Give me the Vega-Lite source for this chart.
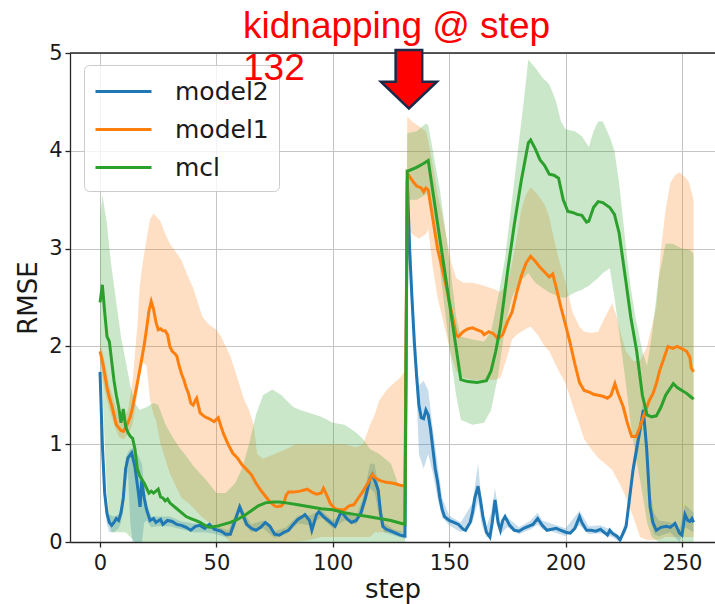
{
  "$schema": "https://vega.github.io/schema/vega-lite/v6.json",
  "width": 645,
  "height": 489,
  "autosize": {"type": "none"},
  "padding": {"left": 70, "top": 53, "right": 0, "bottom": 62},
  "background": "white",
  "title": {"text": ["kidnapping @ step", "132"], "anchor": "start", "frame": "group", "orient": "top", "offset": -75, "baseline": "alphabetic", "dx": 173, "font": "Liberation Sans", "fontSize": 37, "fontWeight": "normal", "color": "#ff0000", "lineHeight": 42},
  "config": {
    "view": {"stroke": null},
    "axis": {
      "grid": true, "gridColor": "#c4c4c4", "gridWidth": 1,
      "domainColor": "#262626", "domainWidth": 1.3,
      "tickColor": "#262626", "tickSize": 5, "tickWidth": 1.3,
      "labelFont": "DejaVu Sans", "labelFontSize": 21, "labelColor": "#1a1a1a",
      "titleFont": "DejaVu Sans", "titleFontSize": 26, "titleFontWeight": "normal", "titleColor": "#1a1a1a"
    },
    "legend": {
      "labelFont": "DejaVu Sans", "labelFontSize": 25, "labelColor": "#1a1a1a"
    }
  },
  "datasets": {
    "lines": [
      {"series":"model2","step":0,"rmse":1.74},{"series":"model2","step":1,"rmse":1.0},{"series":"model2","step":2,"rmse":0.5},{"series":"model2","step":3,"rmse":0.29},{"series":"model2","step":4,"rmse":0.2},{"series":"model2","step":5,"rmse":0.17},{"series":"model2","step":6,"rmse":0.2},{"series":"model2","step":7,"rmse":0.24},{"series":"model2","step":8,"rmse":0.22},{"series":"model2","step":9,"rmse":0.3},{"series":"model2","step":10,"rmse":0.45},{"series":"model2","step":11,"rmse":0.75},{"series":"model2","step":12,"rmse":0.86},{"series":"model2","step":13.6,"rmse":0.91},{"series":"model2","step":15,"rmse":0.77},{"series":"model2","step":16.5,"rmse":0.5},{"series":"model2","step":17.2,"rmse":0.36},{"series":"model2","step":17.9,"rmse":0.63},{"series":"model2","step":19,"rmse":0.45},{"series":"model2","step":20,"rmse":0.33},{"series":"model2","step":21.5,"rmse":0.22},{"series":"model2","step":23,"rmse":0.24},{"series":"model2","step":24,"rmse":0.2},{"series":"model2","step":26,"rmse":0.23},{"series":"model2","step":27,"rmse":0.18},{"series":"model2","step":29,"rmse":0.22},{"series":"model2","step":31,"rmse":0.21},{"series":"model2","step":33,"rmse":0.18},{"series":"model2","step":35,"rmse":0.17},{"series":"model2","step":37,"rmse":0.15},{"series":"model2","step":39,"rmse":0.12},{"series":"model2","step":41,"rmse":0.16},{"series":"model2","step":43,"rmse":0.17},{"series":"model2","step":45,"rmse":0.14},{"series":"model2","step":47,"rmse":0.18},{"series":"model2","step":49,"rmse":0.13},{"series":"model2","step":52,"rmse":0.11},{"series":"model2","step":54,"rmse":0.08},{"series":"model2","step":56,"rmse":0.08},{"series":"model2","step":58,"rmse":0.22},{"series":"model2","step":60,"rmse":0.36},{"series":"model2","step":61,"rmse":0.3},{"series":"model2","step":63,"rmse":0.18},{"series":"model2","step":65,"rmse":0.14},{"series":"model2","step":67,"rmse":0.12},{"series":"model2","step":69,"rmse":0.15},{"series":"model2","step":71,"rmse":0.2},{"series":"model2","step":73,"rmse":0.16},{"series":"model2","step":75,"rmse":0.08},{"series":"model2","step":77,"rmse":0.07},{"series":"model2","step":79,"rmse":0.1},{"series":"model2","step":81,"rmse":0.12},{"series":"model2","step":83,"rmse":0.18},{"series":"model2","step":85,"rmse":0.23},{"series":"model2","step":87,"rmse":0.26},{"series":"model2","step":88,"rmse":0.28},{"series":"model2","step":90,"rmse":0.22},{"series":"model2","step":91,"rmse":0.12},{"series":"model2","step":93,"rmse":0.28},{"series":"model2","step":94,"rmse":0.31},{"series":"model2","step":96,"rmse":0.26},{"series":"model2","step":98,"rmse":0.22},{"series":"model2","step":100,"rmse":0.18},{"series":"model2","step":101,"rmse":0.16},{"series":"model2","step":103,"rmse":0.28},{"series":"model2","step":104,"rmse":0.3},{"series":"model2","step":106,"rmse":0.24},{"series":"model2","step":108,"rmse":0.2},{"series":"model2","step":110,"rmse":0.22},{"series":"model2","step":112,"rmse":0.29},{"series":"model2","step":114,"rmse":0.45},{"series":"model2","step":116,"rmse":0.65},{"series":"model2","step":117,"rmse":0.69},{"series":"model2","step":118.5,"rmse":0.6},{"series":"model2","step":119.5,"rmse":0.53},{"series":"model2","step":120.5,"rmse":0.3},{"series":"model2","step":121.5,"rmse":0.16},{"series":"model2","step":123,"rmse":0.13},{"series":"model2","step":125,"rmse":0.11},{"series":"model2","step":127,"rmse":0.09},{"series":"model2","step":129,"rmse":0.07},{"series":"model2","step":131,"rmse":0.06},{"series":"model2","step":132,"rmse":3.7},{"series":"model2","step":133,"rmse":3.0},{"series":"model2","step":134,"rmse":2.5},{"series":"model2","step":135,"rmse":2.05},{"series":"model2","step":136,"rmse":1.7},{"series":"model2","step":137,"rmse":1.4},{"series":"model2","step":138,"rmse":1.27},{"series":"model2","step":139,"rmse":1.26},{"series":"model2","step":140,"rmse":1.35},{"series":"model2","step":141,"rmse":1.3},{"series":"model2","step":142,"rmse":1.15},{"series":"model2","step":143,"rmse":0.95},{"series":"model2","step":144,"rmse":0.75},{"series":"model2","step":145,"rmse":0.62},{"series":"model2","step":146,"rmse":0.45},{"series":"model2","step":147,"rmse":0.33},{"series":"model2","step":148,"rmse":0.26},{"series":"model2","step":150,"rmse":0.22},{"series":"model2","step":152,"rmse":0.2},{"series":"model2","step":154,"rmse":0.18},{"series":"model2","step":156,"rmse":0.13},{"series":"model2","step":157,"rmse":0.12},{"series":"model2","step":159,"rmse":0.2},{"series":"model2","step":160,"rmse":0.3},{"series":"model2","step":161,"rmse":0.45},{"series":"model2","step":162.4,"rmse":0.57},{"series":"model2","step":163.5,"rmse":0.42},{"series":"model2","step":164.5,"rmse":0.26},{"series":"model2","step":166,"rmse":0.1},{"series":"model2","step":167.5,"rmse":0.05},{"series":"model2","step":168.5,"rmse":0.2},{"series":"model2","step":169.7,"rmse":0.43},{"series":"model2","step":171,"rmse":0.2},{"series":"model2","step":172,"rmse":0.12},{"series":"model2","step":173,"rmse":0.22},{"series":"model2","step":174,"rmse":0.26},{"series":"model2","step":176,"rmse":0.17},{"series":"model2","step":178,"rmse":0.12},{"series":"model2","step":180,"rmse":0.11},{"series":"model2","step":182,"rmse":0.14},{"series":"model2","step":184,"rmse":0.16},{"series":"model2","step":186,"rmse":0.18},{"series":"model2","step":188,"rmse":0.24},{"series":"model2","step":190,"rmse":0.17},{"series":"model2","step":192,"rmse":0.12},{"series":"model2","step":194,"rmse":0.13},{"series":"model2","step":196,"rmse":0.14},{"series":"model2","step":198,"rmse":0.12},{"series":"model2","step":200,"rmse":0.1},{"series":"model2","step":202,"rmse":0.09},{"series":"model2","step":204,"rmse":0.14},{"series":"model2","step":206,"rmse":0.26},{"series":"model2","step":207,"rmse":0.2},{"series":"model2","step":209,"rmse":0.12},{"series":"model2","step":211,"rmse":0.12},{"series":"model2","step":213,"rmse":0.11},{"series":"model2","step":215,"rmse":0.13},{"series":"model2","step":217,"rmse":0.09},{"series":"model2","step":218,"rmse":0.07},{"series":"model2","step":219,"rmse":0.12},{"series":"model2","step":220,"rmse":0.09},{"series":"model2","step":222,"rmse":0.06},{"series":"model2","step":223.4,"rmse":0.02},{"series":"model2","step":226,"rmse":0.16},{"series":"model2","step":229,"rmse":0.74},{"series":"model2","step":232,"rmse":1.15},{"series":"model2","step":233.4,"rmse":1.35},{"series":"model2","step":234.8,"rmse":0.97},{"series":"model2","step":236.3,"rmse":0.36},{"series":"model2","step":237.5,"rmse":0.2},{"series":"model2","step":239,"rmse":0.12},{"series":"model2","step":241,"rmse":0.15},{"series":"model2","step":243.4,"rmse":0.16},{"series":"model2","step":245,"rmse":0.15},{"series":"model2","step":247,"rmse":0.19},{"series":"model2","step":249,"rmse":0.09},{"series":"model2","step":250,"rmse":0.07},{"series":"model2","step":251.3,"rmse":0.28},{"series":"model2","step":252.5,"rmse":0.22},{"series":"model2","step":253.4,"rmse":0.21},{"series":"model2","step":254.3,"rmse":0.24},{"series":"model2","step":255,"rmse":0.2},

      {"series":"model1","step":0,"rmse":1.95},{"series":"model1","step":1,"rmse":1.85},{"series":"model1","step":2,"rmse":1.72},{"series":"model1","step":3,"rmse":1.58},{"series":"model1","step":4,"rmse":1.48},{"series":"model1","step":5,"rmse":1.4},{"series":"model1","step":6,"rmse":1.3},{"series":"model1","step":7,"rmse":1.2},{"series":"model1","step":8,"rmse":1.17},{"series":"model1","step":9,"rmse":1.14},{"series":"model1","step":10,"rmse":1.13},{"series":"model1","step":11,"rmse":1.17},{"series":"model1","step":12,"rmse":1.22},{"series":"model1","step":13,"rmse":1.28},{"series":"model1","step":14,"rmse":1.38},{"series":"model1","step":15,"rmse":1.5},{"series":"model1","step":16,"rmse":1.62},{"series":"model1","step":17,"rmse":1.75},{"series":"model1","step":18,"rmse":1.88},{"series":"model1","step":19,"rmse":2.02},{"series":"model1","step":20,"rmse":2.18},{"series":"model1","step":21,"rmse":2.36},{"series":"model1","step":22,"rmse":2.46},{"series":"model1","step":23,"rmse":2.38},{"series":"model1","step":24,"rmse":2.25},{"series":"model1","step":25,"rmse":2.17},{"series":"model1","step":26,"rmse":2.18},{"series":"model1","step":27,"rmse":2.16},{"series":"model1","step":28,"rmse":2.16},{"series":"model1","step":29,"rmse":2.12},{"series":"model1","step":30,"rmse":2.0},{"series":"model1","step":31,"rmse":1.95},{"series":"model1","step":32,"rmse":1.93},{"series":"model1","step":33,"rmse":1.9},{"series":"model1","step":34,"rmse":1.8},{"series":"model1","step":35,"rmse":1.72},{"series":"model1","step":36,"rmse":1.66},{"series":"model1","step":37,"rmse":1.58},{"series":"model1","step":38,"rmse":1.52},{"series":"model1","step":39,"rmse":1.42},{"series":"model1","step":40,"rmse":1.4},{"series":"model1","step":41,"rmse":1.45},{"series":"model1","step":41.5,"rmse":1.47},{"series":"model1","step":43,"rmse":1.32},{"series":"model1","step":44,"rmse":1.3},{"series":"model1","step":45,"rmse":1.28},{"series":"model1","step":47,"rmse":1.26},{"series":"model1","step":49,"rmse":1.23},{"series":"model1","step":50.8,"rmse":1.27},{"series":"model1","step":52,"rmse":1.18},{"series":"model1","step":53,"rmse":1.11},{"series":"model1","step":55,"rmse":1.0},{"series":"model1","step":57,"rmse":0.91},{"series":"model1","step":59,"rmse":0.86},{"series":"model1","step":61,"rmse":0.79},{"series":"model1","step":63,"rmse":0.74},{"series":"model1","step":65,"rmse":0.69},{"series":"model1","step":67,"rmse":0.6},{"series":"model1","step":69,"rmse":0.53},{"series":"model1","step":71,"rmse":0.47},{"series":"model1","step":73,"rmse":0.41},{"series":"model1","step":75,"rmse":0.37},{"series":"model1","step":76,"rmse":0.36},{"series":"model1","step":78,"rmse":0.37},{"series":"model1","step":79,"rmse":0.4},{"series":"model1","step":80,"rmse":0.48},{"series":"model1","step":81,"rmse":0.51},{"series":"model1","step":83,"rmse":0.51},{"series":"model1","step":86,"rmse":0.52},{"series":"model1","step":89,"rmse":0.54},{"series":"model1","step":91,"rmse":0.51},{"series":"model1","step":93,"rmse":0.49},{"series":"model1","step":95,"rmse":0.5},{"series":"model1","step":96,"rmse":0.55},{"series":"model1","step":97,"rmse":0.5},{"series":"model1","step":99,"rmse":0.39},{"series":"model1","step":101,"rmse":0.34},{"series":"model1","step":103,"rmse":0.33},{"series":"model1","step":105,"rmse":0.33},{"series":"model1","step":107,"rmse":0.37},{"series":"model1","step":109,"rmse":0.38},{"series":"model1","step":111,"rmse":0.45},{"series":"model1","step":113,"rmse":0.52},{"series":"model1","step":115,"rmse":0.6},{"series":"model1","step":117,"rmse":0.69},{"series":"model1","step":118,"rmse":0.66},{"series":"model1","step":120,"rmse":0.63},{"series":"model1","step":123,"rmse":0.61},{"series":"model1","step":126,"rmse":0.6},{"series":"model1","step":129,"rmse":0.58},{"series":"model1","step":131,"rmse":0.57},{"series":"model1","step":132,"rmse":3.77},{"series":"model1","step":134,"rmse":3.7},{"series":"model1","step":136,"rmse":3.64},{"series":"model1","step":138,"rmse":3.62},{"series":"model1","step":139,"rmse":3.58},{"series":"model1","step":140,"rmse":3.62},{"series":"model1","step":141,"rmse":3.6},{"series":"model1","step":143,"rmse":3.3},{"series":"model1","step":145,"rmse":3.0},{"series":"model1","step":147,"rmse":2.8},{"series":"model1","step":149,"rmse":2.58},{"series":"model1","step":151,"rmse":2.35},{"series":"model1","step":153,"rmse":2.12},{"series":"model1","step":154,"rmse":2.1},{"series":"model1","step":156,"rmse":2.15},{"series":"model1","step":158,"rmse":2.18},{"series":"model1","step":160,"rmse":2.19},{"series":"model1","step":162,"rmse":2.17},{"series":"model1","step":164,"rmse":2.15},{"series":"model1","step":165,"rmse":2.12},{"series":"model1","step":167,"rmse":2.15},{"series":"model1","step":169,"rmse":2.13},{"series":"model1","step":171,"rmse":2.08},{"series":"model1","step":173,"rmse":2.12},{"series":"model1","step":175,"rmse":2.25},{"series":"model1","step":177,"rmse":2.35},{"series":"model1","step":179,"rmse":2.55},{"series":"model1","step":181,"rmse":2.72},{"series":"model1","step":183,"rmse":2.85},{"series":"model1","step":185,"rmse":2.92},{"series":"model1","step":187,"rmse":2.87},{"series":"model1","step":189,"rmse":2.81},{"series":"model1","step":191,"rmse":2.76},{"series":"model1","step":193,"rmse":2.71},{"series":"model1","step":194.5,"rmse":2.74},{"series":"model1","step":196,"rmse":2.6},{"series":"model1","step":198,"rmse":2.4},{"series":"model1","step":200,"rmse":2.22},{"series":"model1","step":202,"rmse":2.03},{"series":"model1","step":204,"rmse":1.82},{"series":"model1","step":206,"rmse":1.63},{"series":"model1","step":208,"rmse":1.55},{"series":"model1","step":210.5,"rmse":1.53},{"series":"model1","step":212,"rmse":1.51},{"series":"model1","step":214,"rmse":1.5},{"series":"model1","step":216,"rmse":1.49},{"series":"model1","step":218,"rmse":1.47},{"series":"model1","step":219.5,"rmse":1.5},{"series":"model1","step":221.2,"rmse":1.62},{"series":"model1","step":222.5,"rmse":1.52},{"series":"model1","step":224.8,"rmse":1.38},{"series":"model1","step":226.5,"rmse":1.22},{"series":"model1","step":228.4,"rmse":1.08},{"series":"model1","step":230.4,"rmse":1.08},{"series":"model1","step":232,"rmse":1.18},{"series":"model1","step":234,"rmse":1.32},{"series":"model1","step":236,"rmse":1.45},{"series":"model1","step":237.6,"rmse":1.52},{"series":"model1","step":239,"rmse":1.62},{"series":"model1","step":240.5,"rmse":1.76},{"series":"model1","step":242,"rmse":1.86},{"series":"model1","step":244,"rmse":2.0},{"series":"model1","step":246,"rmse":1.98},{"series":"model1","step":248,"rmse":2.0},{"series":"model1","step":250.5,"rmse":1.97},{"series":"model1","step":252,"rmse":1.95},{"series":"model1","step":253.4,"rmse":1.89},{"series":"model1","step":254,"rmse":1.78},{"series":"model1","step":255,"rmse":1.74},

      {"series":"mcl","step":0,"rmse":2.45},{"series":"mcl","step":1,"rmse":2.63},{"series":"mcl","step":2,"rmse":2.35},{"series":"mcl","step":3,"rmse":2.1},{"series":"mcl","step":4,"rmse":2.05},{"series":"mcl","step":5,"rmse":1.85},{"series":"mcl","step":6,"rmse":1.65},{"series":"mcl","step":7,"rmse":1.5},{"series":"mcl","step":8,"rmse":1.38},{"series":"mcl","step":9,"rmse":1.22},{"series":"mcl","step":10,"rmse":1.36},{"series":"mcl","step":11,"rmse":1.18},{"series":"mcl","step":12,"rmse":1.12},{"series":"mcl","step":13,"rmse":1.08},{"series":"mcl","step":14,"rmse":1.06},{"series":"mcl","step":15,"rmse":0.95},{"series":"mcl","step":16,"rmse":0.75},{"series":"mcl","step":17,"rmse":0.68},{"series":"mcl","step":18,"rmse":0.64},{"series":"mcl","step":19,"rmse":0.6},{"series":"mcl","step":20,"rmse":0.55},{"series":"mcl","step":21,"rmse":0.5},{"series":"mcl","step":22,"rmse":0.52},{"series":"mcl","step":23,"rmse":0.5},{"series":"mcl","step":25,"rmse":0.54},{"series":"mcl","step":26,"rmse":0.46},{"series":"mcl","step":27,"rmse":0.45},{"series":"mcl","step":28,"rmse":0.42},{"series":"mcl","step":29,"rmse":0.44},{"series":"mcl","step":30,"rmse":0.4},{"series":"mcl","step":31,"rmse":0.38},{"series":"mcl","step":33,"rmse":0.34},{"series":"mcl","step":35,"rmse":0.3},{"series":"mcl","step":37,"rmse":0.26},{"series":"mcl","step":39,"rmse":0.24},{"series":"mcl","step":41,"rmse":0.22},{"series":"mcl","step":43,"rmse":0.2},{"series":"mcl","step":45,"rmse":0.17},{"series":"mcl","step":47,"rmse":0.15},{"series":"mcl","step":50,"rmse":0.16},{"series":"mcl","step":53,"rmse":0.18},{"series":"mcl","step":56,"rmse":0.2},{"series":"mcl","step":59,"rmse":0.23},{"series":"mcl","step":62,"rmse":0.27},{"series":"mcl","step":65,"rmse":0.32},{"series":"mcl","step":68,"rmse":0.37},{"series":"mcl","step":71,"rmse":0.4},{"series":"mcl","step":74,"rmse":0.41},{"series":"mcl","step":77,"rmse":0.41},{"series":"mcl","step":80,"rmse":0.4},{"series":"mcl","step":85,"rmse":0.38},{"series":"mcl","step":90,"rmse":0.36},{"series":"mcl","step":95,"rmse":0.34},{"series":"mcl","step":100,"rmse":0.33},{"series":"mcl","step":105,"rmse":0.3},{"series":"mcl","step":110,"rmse":0.28},{"series":"mcl","step":115,"rmse":0.26},{"series":"mcl","step":120,"rmse":0.24},{"series":"mcl","step":125,"rmse":0.22},{"series":"mcl","step":128,"rmse":0.2},{"series":"mcl","step":131,"rmse":0.18},{"series":"mcl","step":132,"rmse":3.79},{"series":"mcl","step":136,"rmse":3.83},{"series":"mcl","step":139,"rmse":3.87},{"series":"mcl","step":141,"rmse":3.9},{"series":"mcl","step":155,"rmse":1.66},{"series":"mcl","step":158,"rmse":1.64},{"series":"mcl","step":162,"rmse":1.63},{"series":"mcl","step":166,"rmse":1.65},{"series":"mcl","step":168,"rmse":1.75},{"series":"mcl","step":170,"rmse":1.95},{"series":"mcl","step":172,"rmse":2.2},{"series":"mcl","step":175,"rmse":2.75},{"series":"mcl","step":178,"rmse":3.25},{"series":"mcl","step":181,"rmse":3.7},{"series":"mcl","step":184,"rmse":4.08},{"series":"mcl","step":185,"rmse":4.11},{"series":"mcl","step":187,"rmse":4.02},{"series":"mcl","step":189,"rmse":3.91},{"series":"mcl","step":191,"rmse":3.85},{"series":"mcl","step":193,"rmse":3.76},{"series":"mcl","step":195,"rmse":3.75},{"series":"mcl","step":197,"rmse":3.72},{"series":"mcl","step":199,"rmse":3.5},{"series":"mcl","step":201,"rmse":3.38},{"series":"mcl","step":203,"rmse":3.37},{"series":"mcl","step":205,"rmse":3.35},{"series":"mcl","step":207,"rmse":3.34},{"series":"mcl","step":209,"rmse":3.27},{"series":"mcl","step":210,"rmse":3.28},{"series":"mcl","step":212,"rmse":3.42},{"series":"mcl","step":214,"rmse":3.48},{"series":"mcl","step":216,"rmse":3.47},{"series":"mcl","step":219,"rmse":3.42},{"series":"mcl","step":221,"rmse":3.35},{"series":"mcl","step":223,"rmse":3.16},{"series":"mcl","step":226,"rmse":2.65},{"series":"mcl","step":228,"rmse":2.3},{"series":"mcl","step":230.5,"rmse":1.96},{"series":"mcl","step":233,"rmse":1.5},{"series":"mcl","step":235,"rmse":1.3},{"series":"mcl","step":237,"rmse":1.28},{"series":"mcl","step":239,"rmse":1.29},{"series":"mcl","step":241,"rmse":1.38},{"series":"mcl","step":243,"rmse":1.5},{"series":"mcl","step":246.3,"rmse":1.62},{"series":"mcl","step":248,"rmse":1.58},{"series":"mcl","step":250,"rmse":1.55},{"series":"mcl","step":252,"rmse":1.52},{"series":"mcl","step":254,"rmse":1.48},{"series":"mcl","step":255,"rmse":1.46}
    ],
    "bands": [
      {"series":"model2","step":0,"lo":1.68,"hi":1.8},{"series":"model2","step":1,"lo":0.85,"hi":1.2},{"series":"model2","step":2,"lo":0.38,"hi":0.62},{"series":"model2","step":3,"lo":0.18,"hi":0.38},{"series":"model2","step":4,"lo":0.1,"hi":0.28},{"series":"model2","step":6,"lo":0.1,"hi":0.26},{"series":"model2","step":8,"lo":0.14,"hi":0.28},{"series":"model2","step":9,"lo":0.2,"hi":0.36},{"series":"model2","step":10,"lo":0.32,"hi":0.55},{"series":"model2","step":11,"lo":0.6,"hi":0.85},{"series":"model2","step":12,"lo":0.72,"hi":0.92},{"series":"model2","step":13,"lo":0.2,"hi":0.95},{"series":"model2","step":14,"lo":0.0,"hi":0.96},{"series":"model2","step":16,"lo":0.0,"hi":0.9},{"series":"model2","step":18,"lo":0.0,"hi":0.8},{"series":"model2","step":19,"lo":0.2,"hi":0.55},{"series":"model2","step":20,"lo":0.22,"hi":0.4},{"series":"model2","step":22,"lo":0.15,"hi":0.26},{"series":"model2","step":25,"lo":0.16,"hi":0.26},{"series":"model2","step":30,"lo":0.16,"hi":0.26},{"series":"model2","step":35,"lo":0.13,"hi":0.21},{"series":"model2","step":40,"lo":0.1,"hi":0.19},{"series":"model2","step":45,"lo":0.1,"hi":0.19},{"series":"model2","step":50,"lo":0.08,"hi":0.16},{"series":"model2","step":55,"lo":0.04,"hi":0.12},{"series":"model2","step":58,"lo":0.15,"hi":0.27},{"series":"model2","step":60,"lo":0.3,"hi":0.4},{"series":"model2","step":62,"lo":0.18,"hi":0.3},{"series":"model2","step":65,"lo":0.1,"hi":0.18},{"series":"model2","step":70,"lo":0.14,"hi":0.22},{"series":"model2","step":75,"lo":0.04,"hi":0.11},{"series":"model2","step":80,"lo":0.08,"hi":0.15},{"series":"model2","step":85,"lo":0.19,"hi":0.27},{"series":"model2","step":90,"lo":0.17,"hi":0.27},{"series":"model2","step":95,"lo":0.25,"hi":0.33},{"series":"model2","step":100,"lo":0.14,"hi":0.22},{"series":"model2","step":105,"lo":0.22,"hi":0.3},{"series":"model2","step":110,"lo":0.18,"hi":0.26},{"series":"model2","step":113,"lo":0.3,"hi":0.45},{"series":"model2","step":116,"lo":0.55,"hi":0.8},{"series":"model2","step":118,"lo":0.5,"hi":0.8},{"series":"model2","step":120,"lo":0.25,"hi":0.5},{"series":"model2","step":122,"lo":0.1,"hi":0.2},{"series":"model2","step":126,"lo":0.07,"hi":0.13},{"series":"model2","step":131,"lo":0.03,"hi":0.1},{"series":"model2","step":132,"lo":3.6,"hi":3.8},{"series":"model2","step":134,"lo":2.3,"hi":2.7},{"series":"model2","step":136,"lo":1.5,"hi":1.9},{"series":"model2","step":137,"lo":0.9,"hi":1.6},{"series":"model2","step":139,"lo":0.75,"hi":1.65},{"series":"model2","step":141,"lo":0.9,"hi":1.55},{"series":"model2","step":143,"lo":0.7,"hi":1.15},{"series":"model2","step":145,"lo":0.45,"hi":0.8},{"series":"model2","step":147,"lo":0.25,"hi":0.45},{"series":"model2","step":150,"lo":0.17,"hi":0.27},{"series":"model2","step":155,"lo":0.1,"hi":0.2},{"series":"model2","step":160,"lo":0.2,"hi":0.4},{"series":"model2","step":162.4,"lo":0.42,"hi":0.8},{"series":"model2","step":164,"lo":0.18,"hi":0.4},{"series":"model2","step":166,"lo":0.05,"hi":0.15},{"series":"model2","step":168,"lo":0.05,"hi":0.3},{"series":"model2","step":169.7,"lo":0.3,"hi":0.55},{"series":"model2","step":172,"lo":0.08,"hi":0.2},{"series":"model2","step":175,"lo":0.15,"hi":0.25},{"series":"model2","step":180,"lo":0.08,"hi":0.15},{"series":"model2","step":185,"lo":0.13,"hi":0.22},{"series":"model2","step":188,"lo":0.18,"hi":0.3},{"series":"model2","step":190,"lo":0.13,"hi":0.22},{"series":"model2","step":195,"lo":0.1,"hi":0.18},{"series":"model2","step":200,"lo":0.06,"hi":0.14},{"series":"model2","step":206,"lo":0.17,"hi":0.32},{"series":"model2","step":210,"lo":0.08,"hi":0.16},{"series":"model2","step":215,"lo":0.09,"hi":0.17},{"series":"model2","step":220,"lo":0.05,"hi":0.12},{"series":"model2","step":223.4,"lo":0.0,"hi":0.06},{"series":"model2","step":226,"lo":0.1,"hi":0.22},{"series":"model2","step":229,"lo":0.65,"hi":0.85},{"series":"model2","step":232,"lo":1.05,"hi":1.25},{"series":"model2","step":233.4,"lo":1.25,"hi":1.42},{"series":"model2","step":234.8,"lo":0.85,"hi":1.1},{"series":"model2","step":236.3,"lo":0.25,"hi":0.5},{"series":"model2","step":238,"lo":0.08,"hi":0.3},{"series":"model2","step":240,"lo":0.06,"hi":0.22},{"series":"model2","step":245,"lo":0.1,"hi":0.2},{"series":"model2","step":249,"lo":0.0,"hi":0.13},{"series":"model2","step":251.3,"lo":0.15,"hi":0.38},{"series":"model2","step":255,"lo":0.1,"hi":0.3},

      {"series":"model1","step":0,"lo":1.85,"hi":2.05},{"series":"model1","step":2,"lo":1.55,"hi":1.85},{"series":"model1","step":4,"lo":1.35,"hi":1.6},{"series":"model1","step":6,"lo":1.2,"hi":1.45},{"series":"model1","step":8,"lo":1.08,"hi":1.28},{"series":"model1","step":10,"lo":1.05,"hi":1.25},{"series":"model1","step":12,"lo":1.1,"hi":1.35},{"series":"model1","step":14,"lo":1.2,"hi":1.65},{"series":"model1","step":16,"lo":1.5,"hi":2.2},{"series":"model1","step":17,"lo":1.75,"hi":2.6},{"series":"model1","step":18,"lo":1.85,"hi":2.8},{"series":"model1","step":20,"lo":1.8,"hi":3.1},{"series":"model1","step":21.5,"lo":1.45,"hi":3.3},{"series":"model1","step":23,"lo":1.3,"hi":3.36},{"series":"model1","step":24,"lo":1.25,"hi":3.33},{"series":"model1","step":26,"lo":1.0,"hi":3.28},{"series":"model1","step":28,"lo":0.85,"hi":3.15},{"series":"model1","step":30,"lo":0.7,"hi":3.05},{"series":"model1","step":33,"lo":0.55,"hi":2.95},{"series":"model1","step":35,"lo":0.45,"hi":2.88},{"series":"model1","step":38,"lo":0.4,"hi":2.7},{"series":"model1","step":40,"lo":0.35,"hi":2.6},{"series":"model1","step":42,"lo":0.3,"hi":2.45},{"series":"model1","step":44,"lo":0.25,"hi":2.3},{"series":"model1","step":47,"lo":0.2,"hi":2.22},{"series":"model1","step":50,"lo":0.15,"hi":2.17},{"series":"model1","step":52,"lo":0.1,"hi":2.1},{"series":"model1","step":54,"lo":0.05,"hi":2.0},{"series":"model1","step":56,"lo":0.0,"hi":1.9},{"series":"model1","step":58,"lo":0.0,"hi":1.75},{"series":"model1","step":60,"lo":0.0,"hi":1.6},{"series":"model1","step":62,"lo":0.0,"hi":1.45},{"series":"model1","step":64,"lo":0.0,"hi":1.35},{"series":"model1","step":66,"lo":0.0,"hi":1.2},{"series":"model1","step":67.5,"lo":0.0,"hi":0.9},{"series":"model1","step":70,"lo":0.0,"hi":0.85},{"series":"model1","step":75,"lo":0.0,"hi":0.9},{"series":"model1","step":80,"lo":0.0,"hi":0.95},{"series":"model1","step":84,"lo":0.0,"hi":1.0},{"series":"model1","step":90,"lo":0.02,"hi":1.0},{"series":"model1","step":95,"lo":0.05,"hi":1.0},{"series":"model1","step":100,"lo":0.05,"hi":1.0},{"series":"model1","step":105,"lo":0.05,"hi":1.0},{"series":"model1","step":110,"lo":0.05,"hi":0.97},{"series":"model1","step":113,"lo":0.05,"hi":1.0},{"series":"model1","step":116,"lo":0.05,"hi":1.2},{"series":"model1","step":118,"lo":0.1,"hi":1.3},{"series":"model1","step":120,"lo":0.1,"hi":1.45},{"series":"model1","step":123,"lo":0.1,"hi":1.55},{"series":"model1","step":126,"lo":0.1,"hi":1.62},{"series":"model1","step":129,"lo":0.1,"hi":1.68},{"series":"model1","step":131,"lo":0.1,"hi":1.75},{"series":"model1","step":132,"lo":3.2,"hi":4.35},{"series":"model1","step":134,"lo":3.15,"hi":4.3},{"series":"model1","step":137,"lo":3.1,"hi":4.25},{"series":"model1","step":140,"lo":3.15,"hi":4.2},{"series":"model1","step":141,"lo":3.2,"hi":4.1},{"series":"model1","step":143,"lo":2.8,"hi":3.85},{"series":"model1","step":145,"lo":2.5,"hi":3.55},{"series":"model1","step":147,"lo":2.3,"hi":3.35},{"series":"model1","step":149,"lo":2.1,"hi":3.1},{"series":"model1","step":151,"lo":1.9,"hi":2.85},{"series":"model1","step":153,"lo":1.75,"hi":2.7},{"series":"model1","step":156,"lo":1.68,"hi":2.65},{"series":"model1","step":160,"lo":1.66,"hi":2.65},{"series":"model1","step":165,"lo":1.66,"hi":2.62},{"series":"model1","step":170,"lo":1.66,"hi":2.58},{"series":"model1","step":172,"lo":1.68,"hi":2.55},{"series":"model1","step":175,"lo":1.9,"hi":2.65},{"series":"model1","step":177,"lo":2.07,"hi":2.85},{"series":"model1","step":179,"lo":2.12,"hi":3.1},{"series":"model1","step":181,"lo":2.15,"hi":3.4},{"series":"model1","step":183,"lo":2.18,"hi":3.55},{"series":"model1","step":185,"lo":2.2,"hi":3.63},{"series":"model1","step":188,"lo":2.12,"hi":3.55},{"series":"model1","step":191,"lo":2.0,"hi":3.45},{"series":"model1","step":193,"lo":1.95,"hi":3.32},{"series":"model1","step":195,"lo":1.85,"hi":3.1},{"series":"model1","step":197,"lo":1.75,"hi":2.9},{"series":"model1","step":200,"lo":1.62,"hi":2.65},{"series":"model1","step":203,"lo":1.4,"hi":2.35},{"series":"model1","step":206,"lo":1.2,"hi":2.2},{"series":"model1","step":208,"lo":1.05,"hi":2.15},{"series":"model1","step":211,"lo":0.95,"hi":2.14},{"series":"model1","step":214,"lo":0.86,"hi":2.15},{"series":"model1","step":217,"lo":0.8,"hi":2.3},{"series":"model1","step":220,"lo":0.74,"hi":2.44},{"series":"model1","step":222,"lo":0.65,"hi":2.3},{"series":"model1","step":224,"lo":0.56,"hi":2.1},{"series":"model1","step":226,"lo":0.45,"hi":1.95},{"series":"model1","step":229,"lo":0.26,"hi":1.85},{"series":"model1","step":232,"lo":0.05,"hi":1.85},{"series":"model1","step":235,"lo":0.02,"hi":2.0},{"series":"model1","step":237,"lo":0.02,"hi":2.2},{"series":"model1","step":239,"lo":0.02,"hi":2.4},{"series":"model1","step":241,"lo":0.03,"hi":3.0},{"series":"model1","step":243,"lo":0.05,"hi":3.4},{"series":"model1","step":245,"lo":0.05,"hi":3.67},{"series":"model1","step":247,"lo":0.05,"hi":3.75},{"series":"model1","step":249,"lo":0.05,"hi":3.78},{"series":"model1","step":251,"lo":0.05,"hi":3.74},{"series":"model1","step":253,"lo":0.05,"hi":3.68},{"series":"model1","step":255,"lo":0.05,"hi":3.5},

      {"series":"mcl","step":0,"lo":1.9,"hi":3.3},{"series":"mcl","step":1,"lo":1.6,"hi":3.55},{"series":"mcl","step":2,"lo":1.0,"hi":3.4},{"series":"mcl","step":3,"lo":0.5,"hi":3.25},{"series":"mcl","step":4,"lo":0.2,"hi":3.0},{"series":"mcl","step":5,"lo":0.1,"hi":2.8},{"series":"mcl","step":7,"lo":0.1,"hi":2.45},{"series":"mcl","step":9,"lo":0.1,"hi":2.1},{"series":"mcl","step":11,"lo":0.1,"hi":1.85},{"series":"mcl","step":13,"lo":0.05,"hi":1.6},{"series":"mcl","step":15,"lo":0.0,"hi":1.42},{"series":"mcl","step":17,"lo":0.0,"hi":1.35},{"series":"mcl","step":20,"lo":0.0,"hi":1.38},{"series":"mcl","step":23,"lo":0.0,"hi":1.42},{"series":"mcl","step":25,"lo":0.0,"hi":1.4},{"series":"mcl","step":28,"lo":0.0,"hi":1.21},{"series":"mcl","step":31,"lo":0.0,"hi":1.08},{"series":"mcl","step":34,"lo":0.0,"hi":0.97},{"series":"mcl","step":37,"lo":0.0,"hi":0.88},{"series":"mcl","step":40,"lo":0.0,"hi":0.78},{"series":"mcl","step":43,"lo":0.0,"hi":0.7},{"series":"mcl","step":46,"lo":0.0,"hi":0.62},{"series":"mcl","step":50,"lo":0.0,"hi":0.5},{"series":"mcl","step":54,"lo":0.0,"hi":0.5},{"series":"mcl","step":58,"lo":0.0,"hi":0.6},{"series":"mcl","step":61,"lo":0.0,"hi":0.75},{"series":"mcl","step":64,"lo":0.0,"hi":1.0},{"series":"mcl","step":67,"lo":0.0,"hi":1.3},{"series":"mcl","step":70,"lo":0.0,"hi":1.5},{"series":"mcl","step":74,"lo":0.0,"hi":1.56},{"series":"mcl","step":78,"lo":0.0,"hi":1.5},{"series":"mcl","step":80,"lo":0.0,"hi":1.45},{"series":"mcl","step":83,"lo":0.0,"hi":1.38},{"series":"mcl","step":86,"lo":0.0,"hi":1.35},{"series":"mcl","step":90,"lo":0.0,"hi":1.32},{"series":"mcl","step":95,"lo":0.0,"hi":1.28},{"series":"mcl","step":100,"lo":0.0,"hi":1.22},{"series":"mcl","step":105,"lo":0.0,"hi":1.2},{"series":"mcl","step":110,"lo":0.0,"hi":1.12},{"series":"mcl","step":113,"lo":0.0,"hi":1.05},{"series":"mcl","step":116,"lo":0.0,"hi":0.95},{"series":"mcl","step":120,"lo":0.0,"hi":0.9},{"series":"mcl","step":125,"lo":0.0,"hi":0.8},{"series":"mcl","step":128,"lo":0.0,"hi":0.6},{"series":"mcl","step":131,"lo":0.0,"hi":0.55},{"series":"mcl","step":132,"lo":3.5,"hi":4.18},{"series":"mcl","step":136,"lo":3.5,"hi":4.2},{"series":"mcl","step":140,"lo":3.55,"hi":4.28},{"series":"mcl","step":141,"lo":3.6,"hi":4.26},{"series":"mcl","step":143,"lo":3.3,"hi":4.0},{"series":"mcl","step":146,"lo":2.8,"hi":3.6},{"series":"mcl","step":150,"lo":2.0,"hi":2.9},{"series":"mcl","step":153,"lo":1.5,"hi":2.3},{"series":"mcl","step":155,"lo":1.25,"hi":2.1},{"series":"mcl","step":160,"lo":1.2,"hi":2.07},{"series":"mcl","step":165,"lo":1.22,"hi":2.05},{"series":"mcl","step":168,"lo":1.35,"hi":2.15},{"series":"mcl","step":171,"lo":1.7,"hi":2.5},{"series":"mcl","step":174,"lo":2.2,"hi":2.9},{"series":"mcl","step":177,"lo":2.5,"hi":3.5},{"series":"mcl","step":180,"lo":2.65,"hi":4.1},{"series":"mcl","step":182,"lo":2.7,"hi":4.5},{"series":"mcl","step":184,"lo":2.75,"hi":4.93},{"series":"mcl","step":187,"lo":2.65,"hi":4.85},{"series":"mcl","step":190,"lo":2.6,"hi":4.75},{"series":"mcl","step":193,"lo":2.55,"hi":4.68},{"series":"mcl","step":196,"lo":2.52,"hi":4.5},{"series":"mcl","step":198,"lo":2.5,"hi":4.3},{"series":"mcl","step":200,"lo":2.5,"hi":4.22},{"series":"mcl","step":204,"lo":2.55,"hi":4.2},{"series":"mcl","step":207,"lo":2.58,"hi":4.15},{"series":"mcl","step":210,"lo":2.62,"hi":4.04},{"series":"mcl","step":212,"lo":2.66,"hi":4.2},{"series":"mcl","step":214,"lo":2.7,"hi":4.3},{"series":"mcl","step":216,"lo":2.75,"hi":4.3},{"series":"mcl","step":219,"lo":2.8,"hi":4.14},{"series":"mcl","step":221,"lo":2.5,"hi":4.0},{"series":"mcl","step":223,"lo":2.15,"hi":3.67},{"series":"mcl","step":226,"lo":1.6,"hi":3.0},{"series":"mcl","step":228,"lo":1.2,"hi":2.6},{"series":"mcl","step":230,"lo":0.9,"hi":2.3},{"series":"mcl","step":233,"lo":0.5,"hi":1.95},{"series":"mcl","step":235,"lo":0.2,"hi":1.8},{"series":"mcl","step":237,"lo":0.05,"hi":2.1},{"series":"mcl","step":240,"lo":0.0,"hi":2.7},{"series":"mcl","step":243,"lo":0.0,"hi":3.05},{"series":"mcl","step":246,"lo":0.0,"hi":3.05},{"series":"mcl","step":250,"lo":0.0,"hi":3.0},{"series":"mcl","step":253,"lo":0.0,"hi":2.99},{"series":"mcl","step":255,"lo":0.0,"hi":2.95}
    ]
  },
  "layer": [
    {
      "data": {"name": "bands"},
      "mark": {"type": "area", "opacity": 0.25},
      "encoding": {
        "x": {"field": "step", "type": "quantitative", "scale": {"domain": [-12.9, 264.2], "nice": false, "zero": false}, "axis": {"title": "step", "values": [0, 50, 100, 150, 200, 250], "labelPadding": 5, "titlePadding": 3}},
        "y": {"field": "lo", "type": "quantitative", "scale": {"domain": [0, 5], "nice": false, "zero": false}, "axis": {"title": "RMSE", "values": [0, 1, 2, 3, 4, 5], "labelPadding": 3, "titlePadding": 7}},
        "y2": {"field": "hi"},
        "fill": {"field": "series", "type": "nominal", "scale": {"range": ["#2ca02c", "#ff7f0e", "#1f77b4"]}, "legend": null}
      }
    },
    {
      "data": {"values": [{}]},
      "mark": {"type": "rule", "color": "#262626", "strokeWidth": 1.3},
      "encoding": {"y": {"datum": 5, "type": "quantitative", "axis": {"title": "RMSE", "values": [0, 1, 2, 3, 4, 5], "labelPadding": 3, "titlePadding": 7}}}
    },
    {
      "data": {"name": "lines"},
      "mark": {"type": "line", "strokeWidth": 3},
      "encoding": {
        "x": {"field": "step", "type": "quantitative", "axis": {"title": "step", "values": [0, 50, 100, 150, 200, 250], "labelPadding": 5, "titlePadding": 3}},
        "y": {"field": "rmse", "type": "quantitative", "axis": {"title": "RMSE", "values": [0, 1, 2, 3, 4, 5], "labelPadding": 3, "titlePadding": 7}},
        "stroke": {
          "field": "series", "type": "nominal",
          "scale": {"domain": ["model2", "model1", "mcl"], "range": ["#1f77b4", "#ff7f0e", "#2ca02c"]},
          "legend": {
            "title": null, "orient": "none", "legendX": 14, "legendY": 12,
            "symbolType": "M-1,0H2.733", "symbolSize": 900, "symbolStrokeWidth": 3, "symbolOpacity": 1,
            "labelOffset": 48, "rowPadding": 8, "padding": 10,
            "fillColor": "rgba(255,255,255,0.8)", "strokeColor": "#cccccc", "cornerRadius": 5
          }
        }
      }
    },
    {
      "data": {"values": [{"step": 132.7, "rmse": 4.732}]},
      "mark": {"type": "point", "shape": "M-0.455,-1L0.455,-1L0.455,0.086L0.96,0.086L0,1L-0.96,0.086L-0.455,0.086Z", "filled": true, "fill": "#ff0000", "stroke": "#1c2a48", "strokeWidth": 2.5, "size": 3411, "opacity": 1},
      "encoding": {
        "x": {"field": "step", "type": "quantitative", "axis": {"title": "step", "values": [0, 50, 100, 150, 200, 250], "labelPadding": 5, "titlePadding": 3}},
        "y": {"field": "rmse", "type": "quantitative", "axis": {"title": "RMSE", "values": [0, 1, 2, 3, 4, 5], "labelPadding": 3, "titlePadding": 7}}
      }
    }
  ]
}
